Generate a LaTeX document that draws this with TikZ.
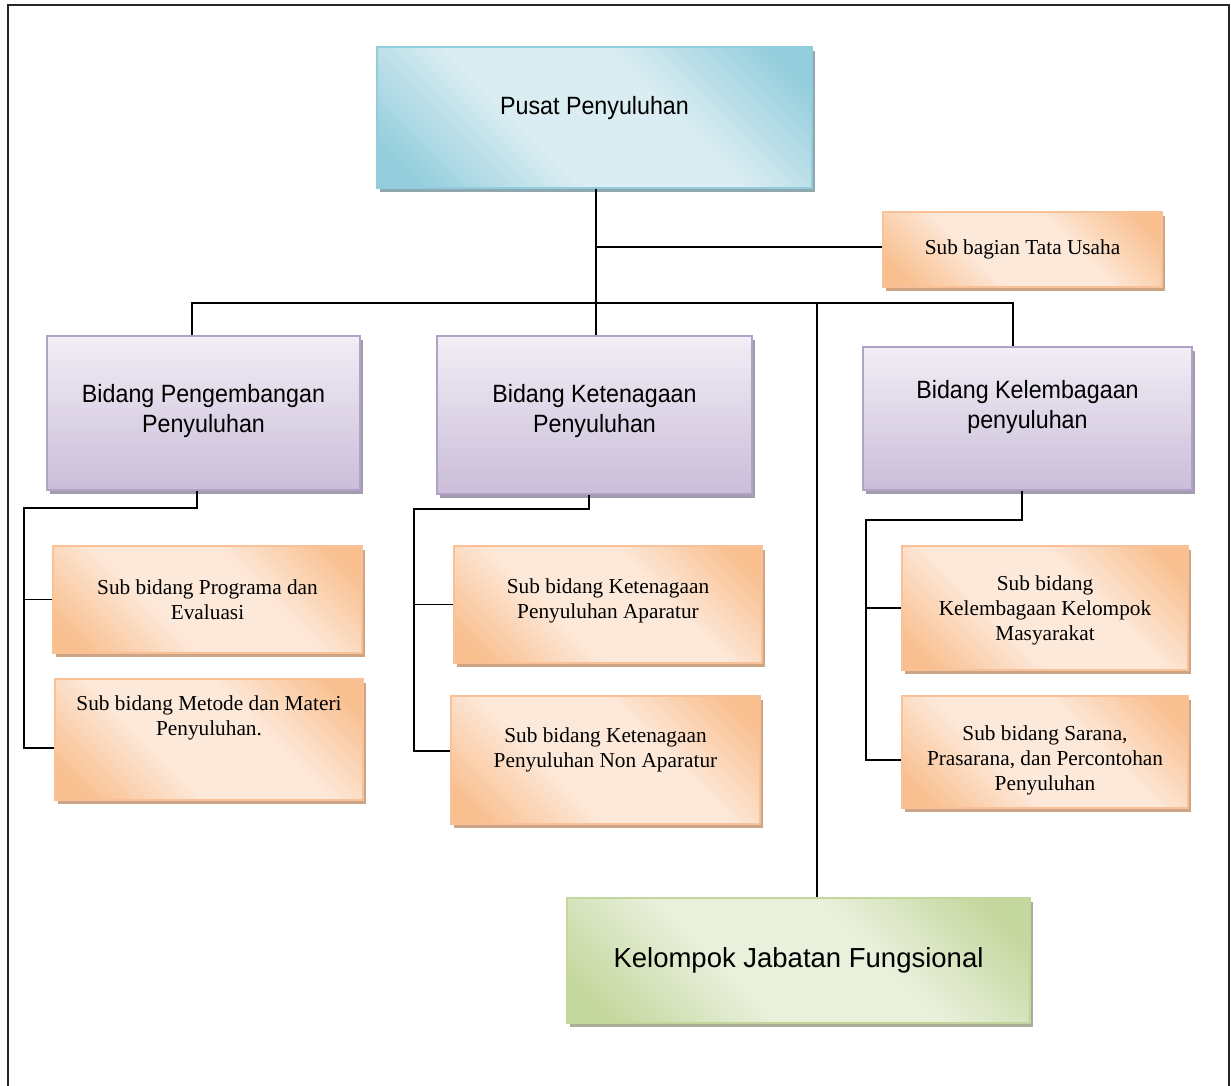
\documentclass[tikz,border=0pt]{standalone}
\usepackage{fontspec}
\setmainfont{Liberation Serif}
\newfontfamily\narsans[FakeStretch=0.93]{Liberation Sans}
\newfontfamily\widesans{Liberation Sans}
\usetikzlibrary{shadows,calc}
\definecolor{orLight}{HTML}{FDE9DA}
\definecolor{orDark}{HTML}{F9BF8F}
\definecolor{orBorder}{HTML}{F8C197}
\definecolor{orShadow}{HTML}{CDA584}
\definecolor{puTop}{HTML}{F1EEF5}
\definecolor{puBot}{HTML}{CABDD9}
\definecolor{puBorder}{HTML}{B3A2C7}
\definecolor{puShadow}{HTML}{A39BAE}
\definecolor{blLight}{HTML}{DAEDF2}
\definecolor{blDark}{HTML}{94CEDD}
\definecolor{blBorder}{HTML}{93CDDD}
\definecolor{blShadow}{HTML}{8FA8B0}
\definecolor{grLight}{HTML}{E9F0DC}
\definecolor{grDark}{HTML}{C4D79D}
\definecolor{grBorder}{HTML}{C3D69B}
\definecolor{grShadow}{HTML}{A9AE94}
\pgfdeclareverticalshading{orsh}{100bp}{color(0bp)=(orDark); color(20bp)=(orDark); color(40bp)=(orLight); color(60bp)=(orLight); color(80bp)=(orDark); color(100bp)=(orDark)}
\pgfdeclareverticalshading{blsh}{100bp}{color(0bp)=(blDark); color(20bp)=(blDark); color(40bp)=(blLight); color(60bp)=(blLight); color(80bp)=(blDark); color(100bp)=(blDark)}
\pgfdeclareverticalshading{grsh}{100bp}{color(0bp)=(grDark); color(20bp)=(grDark); color(40bp)=(grLight); color(60bp)=(grLight); color(80bp)=(grDark); color(100bp)=(grDark)}
\begin{document}
\begin{tikzpicture}[x=1pt,y=-1pt,
  box/.style={rectangle, inner sep=0pt, line width=1.2pt},
  orangebox/.style={box, draw=orBorder, shade, shading=orsh, shading angle=-45,
    drop shadow={shadow xshift=3pt, shadow yshift=-4pt, fill=orShadow, opacity=1}},
  purplebox/.style={box, draw=puBorder, top color=puTop, bottom color=puBot, shading angle=0,
    drop shadow={shadow xshift=3pt, shadow yshift=-4pt, fill=puShadow, opacity=1}},
  bluebox/.style={box, draw=blBorder, shade, shading=blsh, shading angle=-45,
    drop shadow={shadow xshift=3pt, shadow yshift=-4pt, fill=blShadow, opacity=1}},
  greenbox/.style={box, draw=grBorder, shade, shading=grsh, shading angle=-45,
    drop shadow={shadow xshift=3pt, shadow yshift=-4pt, fill=grShadow, opacity=1}},
  btext/.style={font=\narsans\fontsize{25}{30}\selectfont, align=center, inner sep=0pt},
  stext/.style={font=\fontsize{21.3}{25}\selectfont, align=center, inner sep=0pt},
  ktext/.style={font=\widesans\fontsize{27.5}{32}\selectfont, align=center, inner sep=0pt},
  conn/.style={line width=1.8pt, black}
]
\useasboundingbox (0,0) rectangle (1231,1086);
\fill[white] (0,0) rectangle (1231,1086);
\draw[line width=2pt, black!85] (8,1086) -- (8,5) -- (1229,5) -- (1229,1086);

% boxes
\node[bluebox, minimum width=435pt, minimum height=141pt] (pusat) at (594.5,117.5) {};
\node[orangebox, minimum width=279pt, minimum height=75pt] (tu) at (1022.5,249.5) {};
\node[purplebox, minimum width=313pt, minimum height=154pt] (peng) at (203.5,413) {};
\node[purplebox, minimum width=315pt, minimum height=158pt] (ket) at (594.5,415) {};
\node[purplebox, minimum width=329pt, minimum height=143pt] (kel) at (1027.5,418.5) {};
\node[orangebox, minimum width=309pt, minimum height=107pt] (spe) at (207.5,599.5) {};
\node[orangebox, minimum width=308pt, minimum height=121pt] (smm) at (209,739.5) {};
\node[orangebox, minimum width=308pt, minimum height=117pt] (ska) at (608,604.5) {};
\node[orangebox, minimum width=309pt, minimum height=128pt] (skn) at (605.5,760) {};
\node[orangebox, minimum width=286pt, minimum height=124pt] (skm) at (1045,608) {};
\node[orangebox, minimum width=286pt, minimum height=112pt] (ssp) at (1045,752) {};
\node[greenbox, minimum width=463pt, minimum height=125pt] (kjf) at (798.5,960.5) {};

% labels
\node[btext] (pusatT) at ($(pusat.center)+(0,-9)$) {Pusat Penyuluhan};
\node[stext] (tuT) at ($(tu.center)+(0,0)$) {Sub bagian Tata Usaha};
\node[btext] (pengT) at ($(peng.center)+(0,-2)$) {Bidang Pengembangan\\Penyuluhan};
\node[btext] (ketT) at ($(ket.center)+(0,-4)$) {Bidang Ketenagaan\\Penyuluhan};
\node[btext] (kelT) at ($(kel.center)+(0,-11)$) {Bidang Kelembagaan\\penyuluhan};
\node[stext] (speT) at ($(spe.center)+(0,0)$) {Sub bidang Programa dan\\Evaluasi};
\node[stext] (smmT) at ($(smm.center)+(0,-22)$) {Sub bidang Metode dan Materi\\Penyuluhan.};
\node[stext] (skaT) at ($(ska.center)+(0,-4)$) {Sub bidang Ketenagaan\\Penyuluhan Aparatur};
\node[stext] (sknT) at ($(skn.center)+(0,-10)$) {Sub bidang Ketenagaan\\Penyuluhan Non Aparatur};
\node[stext] (skmT) at ($(skm.center)+(0,2)$) {Sub bidang\\Kelembagaan Kelompok\\Masyarakat};
\node[stext] (sspT) at ($(ssp.center)+(0,8)$) {Sub bidang Sarana,\\Prasarana, dan Percontohan\\Penyuluhan};
\node[ktext] (kjfT) at ($(kjf.center)+(0,0)$) {Kelompok Jabatan Fungsional};

% junctions
\coordinate (j0) at (596,247);
\coordinate (busL) at (192,303);
\coordinate (busM) at (817,303);
\coordinate (busR) at (1013,303);
\coordinate (lA) at (197,508);
\coordinate (lB) at (24,508);
\coordinate (lC) at (24,748);
\coordinate (mA) at (589,509);
\coordinate (mB) at (414,509);
\coordinate (mC) at (414,751);
\coordinate (rA) at (1022,520);
\coordinate (rB) at (866,520);
\coordinate (rC) at (866,760);

% connectors
\draw[conn] (pusat.south -| j0) -- (j0 |- ket.north);
\draw[conn] (j0) -- (j0 -| tu.west);
\draw[conn] (busL |- peng.north) -- (busL) -- ([xshift=1pt]busR);
\draw[conn] (busR) -- (busR |- kel.north);
\draw[conn] (busM) -- (busM |- kjf.north);

\draw[conn] (lA |- peng.south) -- (lA) -- (lB) -- (lC) -- (lC -| smm.west);
\draw[conn] (lB |- spe.west) -- (spe.west);

\draw[conn] (mA |- ket.south) -- (mA) -- (mB) -- (mC) -- (mC -| skn.west);
\draw[conn] (mB |- ska.west) -- (ska.west);

\draw[conn] (rA |- kel.south) -- (rA) -- (rB) -- (rC) -- (rC -| ssp.west);
\draw[conn] (rB |- skm.west) -- (skm.west);
\end{tikzpicture}
\end{document}
